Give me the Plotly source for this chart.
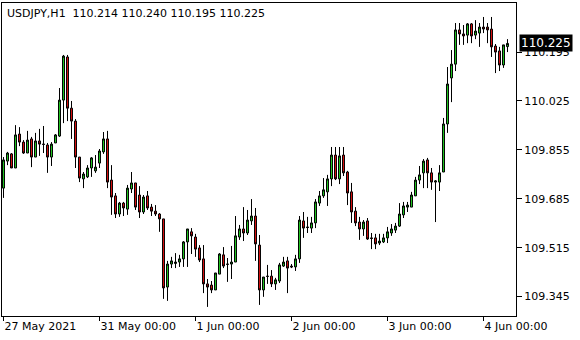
import plotly.graph_objects as go

opens = [109.722,109.816,109.841,109.792,109.910,109.882,109.844,109.893,109.830,109.886,
         109.875,109.872,109.830,109.879,109.903,110.028,110.178,110.000,109.955,109.830,
         109.754,109.761,109.792,109.782,109.809,109.848,109.893,109.750,109.695,109.632,
         109.670,109.649,109.719,109.740,109.698,109.639,109.695,109.656,109.642,109.632,
         109.615,109.378,109.458,109.460,109.465,109.476,109.535,109.570,109.552,109.514,
         109.476,109.389,109.385,109.368,109.423,109.490,109.458,109.458,109.465,109.552,
         109.580,109.566,109.608,109.625,109.524,109.368,109.416,109.416,109.389,109.399,
         109.451,109.469,109.451,109.448,109.476,109.608,109.587,109.583,109.601,109.670,
         109.695,109.709,109.754,109.837,109.754,109.837,109.778,109.709,109.642,109.604,
         109.580,109.608,109.549,109.549,109.531,109.535,109.549,109.566,109.576,109.590,
         109.629,109.656,109.656,109.695,109.750,109.775,109.820,109.775,109.743,109.743,
         109.778,109.945,110.105,110.153,110.272,110.258,110.254,110.293,110.254,110.261,
         110.282,110.282,110.275,110.216,110.199,110.150,110.214]
highs = [109.830,109.848,109.844,109.941,109.934,109.889,109.921,109.900,109.914,109.928,
         109.938,109.879,109.882,109.910,110.070,110.185,110.185,110.025,109.962,109.830,
         109.778,109.802,109.830,109.837,109.858,109.917,109.921,109.802,109.705,109.674,
         109.674,109.733,109.778,109.740,109.729,109.698,109.712,109.667,109.663,109.635,
         109.615,109.469,109.483,109.496,109.490,109.538,109.580,109.583,109.563,109.524,
         109.524,109.406,109.399,109.427,109.496,109.517,109.479,109.521,109.625,109.594,
         109.656,109.646,109.684,109.653,109.559,109.413,109.455,109.437,109.410,109.462,
         109.483,109.483,109.458,109.490,109.625,109.639,109.622,109.622,109.684,109.712,
         109.757,109.768,109.865,109.865,109.865,109.865,109.782,109.740,109.656,109.622,
         109.611,109.618,109.566,109.563,109.563,109.563,109.587,109.597,109.601,109.670,
         109.674,109.674,109.709,109.761,109.799,109.823,109.827,109.792,109.750,109.802,
         109.966,110.143,110.202,110.296,110.296,110.289,110.296,110.296,110.306,110.296,
         110.317,110.296,110.317,110.223,110.213,110.220,110.240]
lows = [109.688,109.802,109.792,109.792,109.868,109.841,109.844,109.795,109.830,109.834,
        109.844,109.775,109.799,109.879,109.900,109.948,109.955,109.893,109.792,109.743,
        109.722,109.757,109.761,109.775,109.792,109.841,109.722,109.629,109.618,109.622,
        109.625,109.629,109.705,109.646,109.618,109.632,109.646,109.625,109.625,109.570,
        109.337,109.330,109.444,109.444,109.448,109.448,109.448,109.493,109.483,109.465,
        109.357,109.309,109.357,109.368,109.423,109.444,109.396,109.406,109.465,109.542,
        109.538,109.559,109.594,109.469,109.316,109.344,109.389,109.378,109.368,109.392,
        109.448,109.357,109.444,109.434,109.462,109.549,109.566,109.566,109.583,109.660,
        109.688,109.660,109.729,109.750,109.736,109.764,109.663,109.601,109.590,109.542,
        109.556,109.542,109.510,109.510,109.524,109.531,109.531,109.556,109.566,109.587,
        109.618,109.639,109.656,109.695,109.736,109.722,109.722,109.716,109.604,109.712,
        109.778,109.914,110.021,110.129,110.220,110.220,110.226,110.226,110.240,110.213,
        110.261,110.226,110.178,110.122,110.129,110.140,110.195]
closes = [109.820,109.844,109.792,109.907,109.882,109.844,109.889,109.830,109.886,109.875,
          109.874,109.830,109.875,109.907,110.028,110.181,110.000,109.955,109.830,109.757,
          109.771,109.792,109.827,109.795,109.851,109.893,109.743,109.691,109.632,109.670,
          109.653,109.722,109.740,109.656,109.639,109.691,109.653,109.642,109.632,109.615,
          109.375,109.458,109.469,109.465,109.476,109.535,109.580,109.556,109.510,109.472,
          109.389,109.378,109.368,109.427,109.493,109.451,109.457,109.465,109.556,109.580,
          109.566,109.611,109.625,109.528,109.368,109.413,109.415,109.389,109.403,109.455,
          109.465,109.444,109.448,109.476,109.611,109.583,109.585,109.601,109.674,109.695,
          109.716,109.754,109.837,109.754,109.834,109.775,109.705,109.639,109.601,109.580,
          109.604,109.545,109.547,109.528,109.538,109.549,109.570,109.580,109.590,109.632,
          109.660,109.663,109.698,109.750,109.768,109.816,109.775,109.743,109.747,109.775,
          109.945,110.084,110.153,110.272,110.258,110.251,110.293,110.251,110.268,110.282,
          110.275,110.272,110.213,110.195,110.150,110.220,110.225]

bar_index = list(range(len(opens)))
x_tick_index = [0, 24, 48, 72, 96, 120]
x_tick_labels = ["27 May 2021", "31 May 00:00", "1 Jun 00:00", "2 Jun 00:00", "3 Jun 00:00", "4 Jun 00:00"]
y_tick_values = [109.345, 109.515, 109.685, 109.855, 110.025, 110.195]
symbol = "USDJPY,H1"
last_price = closes[-1]

fig = go.Figure(go.Candlestick(
    x=bar_index, open=opens, high=highs, low=lows, close=closes,
    increasing=dict(line=dict(color="black", width=1), fillcolor="#22CC22"),
    decreasing=dict(line=dict(color="black", width=1), fillcolor="#DD1111"),
    whiskerwidth=0, hoverinfo="skip",
))

font_family = "DejaVu Sans, Verdana, sans-serif"
fig.update_layout(
    width=580, height=340,
    margin=dict(l=2, r=64, t=3, b=24),
    paper_bgcolor="white", plot_bgcolor="white",
    showlegend=False,
    font=dict(family=font_family, size=11, color="black"),
    xaxis=dict(
        range=[-0.375, 128.125], rangeslider=dict(visible=False),
        showgrid=False, zeroline=False,
        showline=True, linecolor="black", linewidth=1, mirror=True,
        ticks="outside", ticklen=4, tickcolor="black",
        tickvals=x_tick_index, ticktext=x_tick_labels,
        ticklabelposition="outside right",
        tickfont=dict(size=11, color="black"),
    ),
    yaxis=dict(
        range=[109.2774, 110.3656], side="right",
        showgrid=False, zeroline=False,
        showline=True, linecolor="black", linewidth=1, mirror=True,
        ticks="outside", ticklen=5, tickcolor="black",
        tickvals=y_tick_values, ticktext=[f"{v:.3f}" for v in y_tick_values],
        tickfont=dict(size=11, color="black"),
    ),
    annotations=[
        dict(xref="paper", yref="paper", x=0, y=1, xanchor="left", yanchor="top",
             xshift=3, yshift=-2, showarrow=False,
             text=f"{symbol}\u00a0\u00a0{opens[-1]:.3f} {highs[-1]:.3f} {lows[-1]:.3f} {closes[-1]:.3f}",
             font=dict(size=11, color="black")),
        dict(xref="paper", yref="y", x=1, y=last_price, xanchor="left", yanchor="middle",
             xshift=3, showarrow=False, text=f"{last_price:.3f}",
             bgcolor="black", borderpad=1, font=dict(size=12, color="white")),
    ],
)

fig.write_html("out.html")
